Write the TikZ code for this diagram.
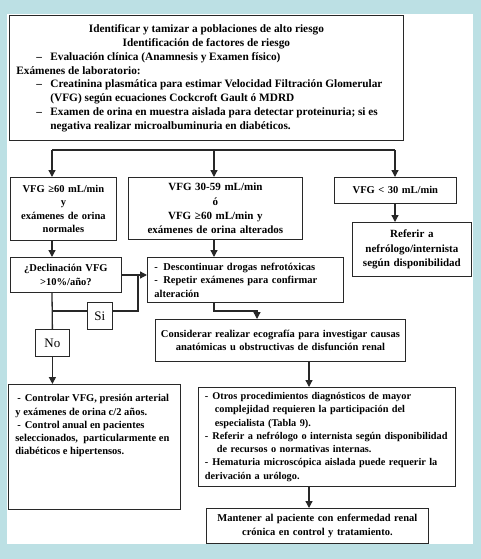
\documentclass[tikz,border=0pt]{standalone}
\usepackage{fontspec}
\setmainfont{Liberation Serif}
\usetikzlibrary{arrows.meta}
\definecolor{bgteal}{RGB}{188,224,228}
\definecolor{linec}{RGB}{40,40,40}
\begin{document}
\begin{tikzpicture}[x=1pt,y=-1pt,
  box/.style={draw=linec, line width=0.8pt, fill=white, inner sep=0pt, anchor=north west, font=\bfseries},
  ctext/.style={align=center},
  conn/.style={draw=linec, line width=1.3pt},
  arr/.style={conn, -{Triangle[width=7pt,length=7pt]}},
  fa/.style={font=\fontsize{10.5}{13.5}\selectfont\bfseries},
  fb/.style={font=\fontsize{11}{14.2}\selectfont\bfseries},
  yn/.style={draw=linec, line width=0.8pt, fill=white, inner sep=0pt, anchor=north west, font=\fontsize{13}{15}\selectfont},
]
\useasboundingbox (0,0) rectangle (481,559);
\fill[bgteal] (0,0) rectangle (481,559);
\fill[white] (7,14) rectangle (473,544);

% top box
\node[box, minimum width=394pt, minimum height=125pt] (top) at (9,15)
 {\parbox[c][125pt][t]{380pt}{\fontsize{11.3}{13.9}\selectfont\bfseries
  \vspace*{9pt}%
  {\centering Identificar y tamizar a poblaciones de alto riesgo\\ Identificación de factores de riesgo\par}
  \hangindent=34pt\hangafter=1\noindent\hspace*{20pt}\makebox[14pt][l]{–}Evaluación clínica (Anamnesis y Examen físico)\par
  \noindent Exámenes de laboratorio:\par
  \hangindent=34pt\hangafter=1\noindent\hspace*{20pt}\makebox[14pt][l]{–}Creatinina plasmática para estimar Velocidad Filtración Glomerular\newline (VFG) según ecuaciones Cockcroft Gault ó MDRD\par
  \hangindent=34pt\hangafter=1\noindent\hspace*{20pt}\makebox[14pt][l]{–}Examen de orina en muestra aislada para detectar proteinuria; si es\newline negativa realizar microalbuminuria en diabéticos.\par}};

% second row
\node[box, fa, minimum width=106pt, minimum height=63pt, text width=104pt, ctext] (b1) at (10,177)
 {VFG ≥60 mL/min\\ y\\ exámenes de orina\\ normales};
\node[box, fb, minimum width=174pt, minimum height=62pt, text width=170pt, ctext] (b2) at (128,177)
 {VFG 30-59 mL/min\\ ó\\ VFG ≥60 mL/min y\\ exámenes de orina alterados};
\node[box, fa, minimum width=122pt, minimum height=26pt, text width=118pt, ctext] (b3) at (334,177)
 {VFG {<} 30 mL/min};
\node[box, fb, minimum width=119pt, minimum height=54pt, text width=117pt, ctext] (b4) at (352,222)
 {Referir a\\ nefrólogo/internista\\ según disponibilidad};

% third row
\node[box, fa, minimum width=111pt, minimum height=35pt, text width=108pt, ctext] (b5) at (10,257)
 {¿Declinación VFG\\ >10\%/año?};
\node[box, fa, minimum width=196pt, minimum height=45pt, text width=182pt, align=left] (b6) at (147,257)
 {\hangindent=9pt\hangafter=1\noindent\makebox[9pt][l]{-}Descontinuar drogas nefrotóxicas\par
  \hangindent=9pt\hangafter=1\noindent\makebox[9pt][l]{-}Repetir exámenes para confirmar\newline alteración};
\node[yn, minimum width=25pt, minimum height=27pt] (si) at (87,302) {Si};
\node[yn, minimum width=34pt, minimum height=27pt] (no) at (35,329) {No};
\node[box, fa, minimum width=250pt, minimum height=42pt, text width=246pt, ctext] (b8) at (155,319)
 {Considerar realizar ecografía para investigar causas\\ anatómicas u obstructivas de disfunción renal};

% lower row
\node[box, minimum width=172pt, minimum height=125pt] (b7) at (8,384)
 {\parbox[c][125pt][t]{158pt}{\fontsize{10.5}{13.3}\selectfont\bfseries\raggedright
  \vspace*{10pt}%
  \noindent\hspace*{2pt}-\hspace{4pt}Controlar VFG, presión arterial\newline
  y exámenes de orina c/2 años.\newline
  \hspace*{2pt}-\hspace{4pt}Control anual en pacientes\newline
  seleccionados,\ \ particularmente en\newline
  diabéticos e hipertensos.\par}};
\node[box, font=\fontsize{10.3}{13.3}\selectfont\bfseries, minimum width=257pt, minimum height=99pt, text width=244pt, align=left] (b9) at (198,387)
 {\hangindent=10pt\hangafter=1\noindent-\hspace{4pt}Otros procedimientos diagnósticos de mayor\newline complejidad requieren la participación del\newline especialista (Tabla 9).\par
  \hangindent=12pt\hangafter=1\noindent-\hspace{4pt}Referir a nefrólogo o internista según disponibilidad\newline de recursos o normativas internas.\par
  \hangindent=6pt\hangafter=1\noindent-\hspace{4pt}Hematuria microscópica aislada puede requerir la\newline derivación a urólogo.};
\node[box, fa, minimum width=222pt, minimum height=35pt, text width=218pt, ctext] (b10) at (206,508)
 {Mantener al paciente con enfermedad renal\\ crónica en control y tratamiento.};

% connectors
\coordinate (d1) at (52,150);
\coordinate (d2) at (214,150);
\coordinate (d3) at (395,150);
\coordinate (j1) at (52,311);
\coordinate (j2) at (138,275);
\coordinate (k) at (257,311);
\coordinate (m) at (309,0);

\draw[conn] (d1) -- (d3);
\draw[arr] (d1) -- (d1 |- b1.north);
\draw[arr] (d2) -- (d2 |- b2.north);
\draw[arr] (d3) -- (d3 |- b3.north);
\draw[arr] (b3.south -| d3) -- (d3 |- b4.north);
\draw[arr] (b1.south -| d1) -- (d1 |- b5.north);
\draw[arr] (b2.south -| d2) -- (d2 |- b6.north);
\draw[arr] (b5.east |- j2) -- (b6.west |- j2);
\draw[conn] (b5.south -| d1) -- (no.north);
\draw[conn] (j1) -- (si.west |- j1);
\draw[conn] (si.east |- j1) -| (j2);
\draw[arr] (no.south) -- (no.south |- b7.north);
\draw[arr] (b6.south -| d2) |- (k) -- (k |- b8.north);
\draw[arr] (b8.south -| m) -- (m |- b9.north);
\draw[arr] (b9.south -| m) -- (m |- b10.north);
\end{tikzpicture}
\end{document}
